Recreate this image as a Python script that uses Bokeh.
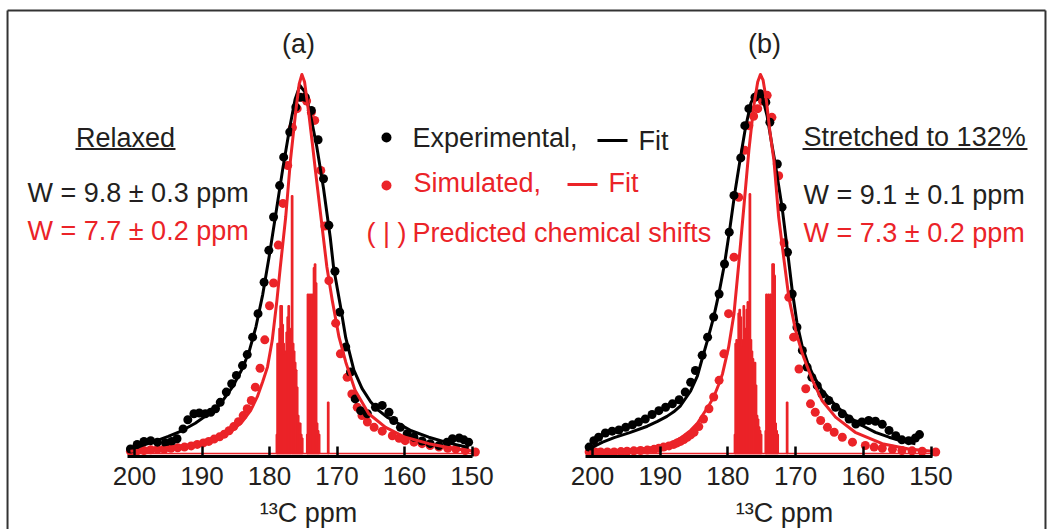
from bokeh.plotting import figure
from bokeh.models import Range1d, LinearAxis, FixedTicker
from bokeh.core.properties import value
from bokeh.embed import file_html
from bokeh.resources import INLINE

# ---------------- data ----------------
xticks = [150, 160, 170, 180, 190, 200]

# Panel (a) Relaxed
exp_a_ppm = [200.6, 199.6, 198.6, 197.6, 196.6, 195.4, 194.5, 193.7, 192.8, 192.1, 191.2, 190.4, 189.5, 188.7,
             188.0, 187.3, 186.4, 185.6, 184.9, 184.0, 183.3, 182.5, 181.7, 180.8, 180.1, 179.4, 178.5, 177.9,
             177.0, 176.1, 175.5, 174.7, 173.8, 172.8, 172.0, 171.2, 170.3, 169.6, 168.7, 168.0, 167.3, 166.5,
             165.5, 164.3, 163.3, 162.3, 161.6, 160.6, 159.6, 158.6, 157.4, 156.2, 154.9, 153.7, 152.9, 151.9,
             151.2, 150.5]
exp_a_int = [0.012, 0.024, 0.032, 0.034, 0.030, 0.028, 0.032, 0.039, 0.065, 0.089, 0.105, 0.107, 0.105, 0.109,
             0.118, 0.135, 0.162, 0.184, 0.206, 0.232, 0.261, 0.307, 0.369, 0.452, 0.536, 0.624, 0.707, 0.782,
             0.848, 0.914, 0.940, 0.940, 0.905, 0.828, 0.725, 0.602, 0.481, 0.373, 0.281, 0.215, 0.144, 0.113,
             0.105, 0.122, 0.127, 0.109, 0.087, 0.069, 0.052, 0.043, 0.033, 0.026, 0.021, 0.030, 0.039, 0.041,
             0.036, 0.030]

sim_a_ppm = [200.6, 199.6, 198.6, 197.6, 196.6, 195.6, 194.6, 193.6, 192.6, 191.6, 190.7, 189.8, 189.0, 188.2,
             187.4, 186.7, 186.0, 185.3, 184.6, 183.9, 183.3, 182.7, 182.1, 181.4, 180.7, 180.0, 179.4, 178.7,
             178.0, 177.3, 176.6, 175.9, 175.2, 174.5, 173.8, 173.3, 172.4, 171.8, 171.2, 170.2, 169.5, 168.5,
             167.8, 167.0, 166.3, 165.5, 164.5, 163.3, 161.8, 160.8, 159.9, 158.6, 157.4, 156.2, 154.9, 153.6,
             152.4, 151.0, 149.5]
sim_a_int = [0.006, 0.007, 0.008, 0.010, 0.011, 0.012, 0.014, 0.015, 0.017, 0.020, 0.024, 0.028, 0.032, 0.038,
             0.044, 0.051, 0.060, 0.071, 0.084, 0.100, 0.118, 0.140, 0.175, 0.225, 0.300, 0.390, 0.450, 0.550,
             0.660, 0.760, 0.860, 0.910, 0.940, 0.930, 0.900, 0.879, 0.747, 0.600, 0.456, 0.344, 0.263, 0.201,
             0.157, 0.122, 0.100, 0.083, 0.069, 0.059, 0.047, 0.040, 0.034, 0.030, 0.026, 0.021, 0.017, 0.014,
             0.012, 0.008, 0.004]

fit_exp_a_ppm = [201.0, 199.0, 197.0, 195.0, 193.0, 191.0, 189.0, 187.3, 185.5, 184.0, 183.0, 182.0, 181.0, 180.0,
                 179.0, 178.0, 177.0, 176.2, 175.5, 174.8, 174.0, 173.0, 172.0, 171.0, 170.5, 169.5, 168.7, 167.5,
                 166.3, 165.0, 163.8, 162.5, 161.3, 159.0, 156.4, 153.5, 150.5]
fit_exp_a_int = [0.008, 0.020, 0.032, 0.045, 0.060, 0.080, 0.105, 0.130, 0.175, 0.225, 0.270, 0.335, 0.420, 0.525,
                 0.640, 0.755, 0.860, 0.935, 0.971, 0.955, 0.900, 0.810, 0.700, 0.570, 0.490, 0.390, 0.305, 0.220,
                 0.172, 0.136, 0.113, 0.095, 0.083, 0.060, 0.043, 0.028, 0.016]

fit_sim_a_ppm = [200.6, 197.0, 194.7, 192.0, 189.7, 187.3, 185.5, 184.0, 182.8, 181.8, 181.0, 180.3, 179.6, 178.9,
                 178.4, 177.6, 176.9, 176.1, 175.6, 175.2, 174.8, 174.2, 173.6, 173.2, 172.2, 171.5, 170.7, 169.7,
                 168.7, 167.3, 165.3, 162.8, 159.9, 156.4, 152.4, 149.5]
fit_sim_a_int = [0.006, 0.011, 0.017, 0.023, 0.030, 0.043, 0.060, 0.085, 0.113, 0.150, 0.190, 0.228, 0.298, 0.404,
                 0.492, 0.624, 0.773, 0.905, 0.975, 1.000, 0.980, 0.900, 0.810, 0.747, 0.597, 0.492, 0.404, 0.307,
                 0.241, 0.166, 0.105, 0.069, 0.043, 0.026, 0.012, 0.006]

shift_a_ppm = [178.90, 178.80, 178.65, 178.50, 178.35, 178.20, 178.05, 177.90, 177.75, 177.60, 177.45, 177.30,
               177.15, 177.00, 176.85, 176.65, 176.50, 176.35, 176.20, 176.05, 175.90, 175.75, 175.60, 175.45,
               175.30, 175.15, 174.40, 174.30, 174.15, 174.00, 173.85, 173.70, 173.55, 173.40, 173.25, 173.10,
               172.95, 172.80, 172.65, 171.30]
shift_a_h = [0.05, 0.29, 0.29, 0.33, 0.39, 0.39, 0.34, 0.29, 0.26, 0.27, 0.32, 0.36, 0.39, 0.33, 0.30, 0.68,
             0.29, 0.27, 0.24, 0.22, 0.175, 0.10, 0.08, 0.08, 0.05, 0.04, 0.05, 0.42, 0.40, 0.42, 0.38, 0.42,
             0.36, 0.49, 0.50, 0.45, 0.08, 0.06, 0.05, 0.135]

# Panel (b) Stretched to 132%
exp_b_ppm = [200.5, 199.8, 199.1, 198.1, 197.1, 196.1, 195.1, 194.1, 193.2, 192.2, 191.2, 190.2, 189.2, 188.2,
             187.2, 186.3, 185.5, 184.8, 183.8, 183.0, 182.1, 181.3, 180.5, 179.8, 179.1, 178.1, 177.5, 176.9,
             176.0, 175.2, 174.4, 173.8, 172.7, 172.0, 171.2, 170.5, 169.8, 169.0, 168.3, 167.6, 166.8, 166.1,
             165.1, 164.1, 163.1, 162.1, 161.1, 160.2, 159.2, 158.2, 157.2, 156.2, 155.2, 154.3, 153.3, 152.3,
             151.7]
exp_b_int = [0.017, 0.034, 0.043, 0.054, 0.059, 0.062, 0.069, 0.076, 0.083, 0.091, 0.103, 0.113, 0.122, 0.131,
             0.142, 0.162, 0.188, 0.219, 0.259, 0.307, 0.360, 0.421, 0.500, 0.584, 0.681, 0.780, 0.865, 0.910,
             0.940, 0.949, 0.927, 0.874, 0.764, 0.650, 0.531, 0.421, 0.333, 0.272, 0.228, 0.201, 0.179, 0.157,
             0.140, 0.122, 0.105, 0.091, 0.078, 0.083, 0.087, 0.085, 0.077, 0.061, 0.047, 0.036, 0.034, 0.041,
             0.050]

sim_b_ppm = [200.5, 199.6, 198.8, 197.8, 196.8, 195.8, 194.9, 193.9, 192.9, 191.9, 190.9, 190.2, 189.5, 188.7,
             188.0, 187.5, 187.0, 186.5, 186.0, 185.5, 185.0, 184.3, 183.6, 182.8, 182.1, 181.3, 180.6, 179.9,
             179.1, 178.4, 177.5, 176.9, 176.2, 175.6, 174.9, 174.2, 173.5, 172.5, 171.7, 171.0, 170.3, 169.5,
             168.5, 167.8, 167.1, 166.3, 165.3, 164.3, 163.1, 161.6, 159.7, 158.4, 157.2, 155.7, 154.3, 152.8,
             151.3, 149.3]
sim_b_int = [0.004, 0.004, 0.004, 0.004, 0.004, 0.005, 0.006, 0.007, 0.008, 0.009, 0.011, 0.014, 0.017, 0.020,
             0.024, 0.028, 0.032, 0.037, 0.043, 0.049, 0.056, 0.071, 0.091, 0.118, 0.149, 0.193, 0.263, 0.369,
             0.518, 0.676, 0.800, 0.865, 0.890, 0.910, 0.930, 0.945, 0.887, 0.733, 0.556, 0.412, 0.307, 0.223,
             0.171, 0.131, 0.109, 0.087, 0.069, 0.056, 0.043, 0.030, 0.021, 0.017, 0.014, 0.011, 0.008, 0.007,
             0.006, 0.004]

fit_exp_b_ppm = [200.5, 198.5, 196.8, 194.5, 191.9, 190.4, 189.0, 188.0, 187.0, 185.5, 184.5, 183.8, 183.0, 182.1,
                 181.3, 180.5, 179.7, 179.0, 178.2, 177.4, 176.6, 175.7, 174.9, 174.2, 173.5, 173.0, 172.0, 171.2,
                 170.5, 169.8, 169.0, 168.2, 167.5, 166.1, 164.1, 162.1, 160.2, 158.2, 156.2, 154.3, 152.3]
fit_exp_b_int = [0.012, 0.030, 0.042, 0.055, 0.072, 0.085, 0.098, 0.110, 0.126, 0.165, 0.205, 0.250, 0.300, 0.360,
                 0.425, 0.500, 0.595, 0.685, 0.775, 0.860, 0.925, 0.958, 0.940, 0.890, 0.815, 0.764, 0.650, 0.535,
                 0.430, 0.345, 0.281, 0.238, 0.210, 0.166, 0.127, 0.096, 0.074, 0.056, 0.043, 0.033, 0.026]

fit_sim_b_ppm = [200.5, 197.0, 194.4, 192.0, 190.4, 189.0, 188.0, 186.8, 185.5, 184.5, 183.6, 182.8, 182.1, 181.4,
                 180.8, 179.9, 179.1, 178.4, 177.6, 176.9, 176.2, 175.6, 175.2, 174.8, 174.3, 173.8, 173.2, 172.5,
                 171.7, 171.0, 170.0, 169.0, 167.5, 166.1, 164.1, 161.2, 157.2, 153.3, 149.8]
fit_sim_b_int = [0.004, 0.007, 0.010, 0.014, 0.018, 0.024, 0.030, 0.043, 0.061, 0.080, 0.105, 0.127, 0.149, 0.180,
                 0.210, 0.280, 0.369, 0.500, 0.659, 0.800, 0.914, 0.980, 1.000, 0.985, 0.930, 0.850, 0.773, 0.624,
                 0.509, 0.412, 0.325, 0.263, 0.193, 0.140, 0.096, 0.056, 0.026, 0.012, 0.006]

shift_b_ppm = [178.95, 178.85, 178.70, 178.55, 178.40, 178.25, 178.10, 177.95, 177.80, 177.65, 177.50, 177.35,
               177.20, 177.05, 176.90, 176.75, 176.60, 176.45, 176.30, 176.15, 176.00, 175.85, 175.70, 175.55,
               175.40, 175.25, 175.10, 174.40, 174.30, 174.15, 174.00, 173.85, 173.70, 173.55, 173.40, 173.25,
               173.10, 172.95, 172.80, 172.65, 171.25]
shift_b_h = [0.05, 0.29, 0.30, 0.29, 0.37, 0.38, 0.36, 0.30, 0.28, 0.39, 0.30, 0.33, 0.38, 0.40, 0.35, 0.685,
             0.30, 0.27, 0.25, 0.23, 0.24, 0.18, 0.10, 0.09, 0.07, 0.06, 0.05, 0.06, 0.42, 0.41, 0.42, 0.40,
             0.42, 0.38, 0.50, 0.50, 0.47, 0.08, 0.06, 0.05, 0.135]

panel_titles = ["(a)", "(b)"]
conditions = ["Relaxed", "Stretched to 132%"]
widths_exp = ["W = 9.8 \u00b1 0.3 ppm", "W = 9.1 \u00b1 0.1 ppm"]
widths_sim = ["W = 7.7 \u00b1 0.2 ppm", "W = 7.3 \u00b1 0.2 ppm"]
axis_title = "\u00b9\u00b3C ppm"

# ---------------- styling ----------------
RED = "#EB2328"
BLACK = "#000000"
TXT = "#231F20"
FONT = "Liberation Sans"
FS = "27px"
AXIS_Y = -0.0079

p = figure(width=1048, height=529, output_backend="svg", toolbar_location=None,
           x_range=Range1d(219.852, 64.593), y_range=Range1d(-0.2005, 1.1953),
           x_axis_location=None, y_axis_location=None, min_border=0,
           outline_line_color=None, background_fill_color="white", border_fill_color="white")
p.extra_x_ranges = {"b": Range1d(287.445, 132.644)}
p.grid.visible = False

for rname, bnds in (("default", (149.9, 201.05)), ("b", (149.85, 201.05))):
    ax = LinearAxis(x_range_name=rname, fixed_location=AXIS_Y, bounds=bnds,
                    ticker=FixedTicker(ticks=xticks),
                    axis_line_width=3, axis_line_color=BLACK,
                    major_tick_line_width=2.5, major_tick_line_color=BLACK,
                    major_tick_in=10, major_tick_out=0,
                    minor_tick_line_color=None,
                    major_label_text_font=FONT, major_label_text_font_size="26px",
                    major_label_text_color=TXT, major_label_standoff=10)
    p.add_layout(ax, "below")


def draw_panel(rname, sp, sh, ep, ei, sip, sii, fep, fei, fsp, fsi):
    kw = {} if rname == "default" else {"x_range_name": rname}
    p.vbar(x=sp, top=sh, bottom=0, width=0.17, fill_color=RED, line_color=RED, line_width=1.6, **kw)
    p.line(x=[max(sip), min(sip)], y=[0, 0], line_color=RED, line_width=1.5, **kw)
    p.scatter(x=sip, y=sii, size=9, fill_color=RED, line_color=None, **kw)
    p.scatter(x=ep, y=ei, size=9, fill_color=BLACK, line_color=None, **kw)
    p.line(x=fep, y=fei, line_color=BLACK, line_width=3, line_join="round", **kw)
    p.line(x=fsp, y=fsi, line_color=RED, line_width=3, line_join="round", **kw)


draw_panel("default", shift_a_ppm, shift_a_h, exp_a_ppm, exp_a_int, sim_a_ppm, sim_a_int,
           fit_exp_a_ppm, fit_exp_a_int, fit_sim_a_ppm, fit_sim_a_int)
draw_panel("b", shift_b_ppm, shift_b_h, exp_b_ppm, exp_b_int, sim_b_ppm, sim_b_int,
           fit_exp_b_ppm, fit_exp_b_int, fit_sim_b_ppm, fit_sim_b_int)


def txt(x, y, s, color=TXT, align="left", size=FS, rname="default"):
    kw = {} if rname == "default" else {"x_range_name": rname}
    p.text(x=[x], y=[y], text=[s], text_color=color, text_align=align, text_baseline="middle",
           text_font=value(FONT), text_font_size=value(size), **kw)


# panel titles
txt(175.70, 1.0818, panel_titles[0], align="center")
txt(174.59, 1.0818, panel_titles[1], align="center", rname="b")

# condition labels with underline
txt(201.33, 0.8338, conditions[0], align="center")
p.line(x=[208.74, 193.93], y=[0.8034, 0.8034], line_color=TXT, line_width=2)
txt(168.83, 0.8364, conditions[1], rname="b")
p.line(x=[168.98, 135.75], y=[0.8034, 0.8034], line_color=TXT, line_width=2, x_range_name="b")

# widths
txt(215.85, 0.6873, widths_exp[0])
txt(215.85, 0.5884, widths_sim[0], color=RED)
txt(168.83, 0.6834, widths_exp[1], rname="b")
txt(168.83, 0.5818, widths_sim[1], color=RED, rname="b")

# legend
p.scatter(x=[162.67], y=[0.8338], size=10, fill_color=BLACK, line_color=None)
txt(158.81, 0.8338, "Experimental,")
p.line(x=[131.41, 126.96], y=[0.8259, 0.8259], line_color=BLACK, line_width=3)
txt(125.33, 0.8259, "Fit")
p.scatter(x=[162.67], y=[0.7071], size=10, fill_color=RED, line_color=None)
txt(158.67, 0.7150, "Simulated,", color=RED)
p.line(x=[135.85, 131.41], y=[0.7098, 0.7098], line_color=RED, line_width=3)
txt(129.78, 0.7150, "Fit", color=RED)
txt(165.63, 0.5831, "( | )", color=RED)
txt(158.81, 0.5831, "Predicted chemical shifts", color=RED)

# axis titles
txt(174.22, -0.1570, axis_title, align="center")
txt(171.64, -0.1570, axis_title, align="center", rname="b")

# figure border (top, left, right)
p.line(x=[218.81, 65.04], y=[1.1689, 1.1689], line_color="#333333", line_width=2)
p.line(x=[218.81, 218.81], y=[1.1689, -0.2005], line_color="#333333", line_width=2)
p.line(x=[65.04, 65.04], y=[1.1689, -0.2005], line_color="#333333", line_width=2)

open("out.html", "w").write(file_html(p, INLINE))
